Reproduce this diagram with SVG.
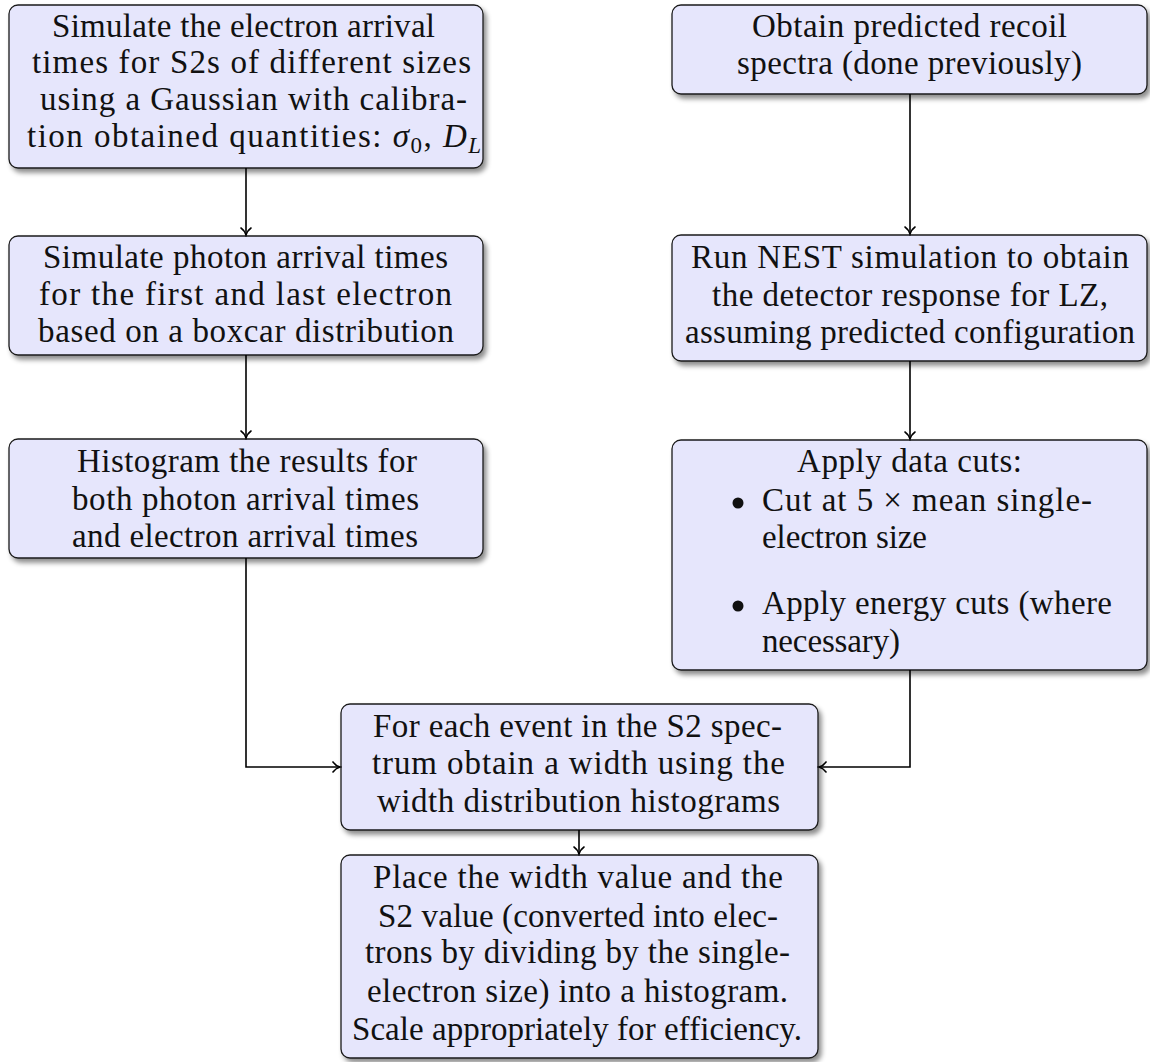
<svg xmlns="http://www.w3.org/2000/svg" width="1150" height="1062" viewBox="0 0 1150 1062">
  <style>
    .box { fill: #e6e6fc; stroke: #1a1a1a; stroke-width: 1.3; filter: url(#shadow); }
    .t { font-size: 33px; fill: #111; }
    .sub { font-size: 23px; }
    .link { fill: none; stroke: #000; stroke-width: 1.6; marker-end: url(#tip); }
    .bullet { fill: #111; }
  </style>
  <defs>
    <filter id="shadow" x="-5%" y="-10%" width="115%" height="130%">
      <feGaussianBlur in="SourceAlpha" stdDeviation="2.5"/>
      <feOffset dx="3" dy="4" result="blur"/>
      <feFlood flood-color="#000" flood-opacity="0.45"/>
      <feComposite in2="blur" operator="in"/>
      <feMerge>
        <feMergeNode/>
        <feMergeNode in="SourceGraphic"/>
      </feMerge>
    </filter>
    <marker id="tip" markerUnits="userSpaceOnUse" viewBox="-8 -6 10 12" refX="0" refY="0" markerWidth="10" markerHeight="12" orient="auto">
      <path d="M -7 -5 C -5.2 -2.3 -2 -0.6 0 0 C -2 0.6 -5.2 2.3 -7 5" fill="none" stroke="#000" stroke-width="1.6" stroke-linecap="round"/>
    </marker>
  </defs>

  <g font-family="Liberation Serif, serif">
    <!-- left column -->
    <g id="sim-electrons">
      <rect class="box" x="9" y="5" width="474" height="163" rx="9"/>
      <text class="t" x="52" y="37" textLength="383" lengthAdjust="spacing">Simulate the electron arrival</text>
      <text class="t" x="32" y="73" textLength="439" lengthAdjust="spacing">times for S2s of different sizes</text>
      <text class="t" x="40" y="110" textLength="427" lengthAdjust="spacing">using a Gaussian with calibra-</text>
      <text class="t" x="27" y="147" textLength="454" lengthAdjust="spacing">tion obtained quantities: <tspan font-style="italic">σ</tspan><tspan class="sub" dy="6">0</tspan><tspan dy="-6">, </tspan><tspan font-style="italic">D</tspan><tspan class="sub" font-style="italic" dy="6">L</tspan></text>
    </g>

    <g id="sim-photons">
      <rect class="box" x="9" y="236" width="474" height="119" rx="9"/>
      <text class="t" x="43" y="268" textLength="405" lengthAdjust="spacing">Simulate photon arrival times</text>
      <text class="t" x="39" y="305" textLength="413" lengthAdjust="spacing">for the first and last electron</text>
      <text class="t" x="38" y="342" textLength="416" lengthAdjust="spacing">based on a boxcar distribution</text>
    </g>

    <g id="histogram-results">
      <rect class="box" x="9" y="439" width="474" height="119" rx="9"/>
      <text class="t" x="77" y="472" textLength="340" lengthAdjust="spacing">Histogram the results for</text>
      <text class="t" x="72" y="510" textLength="347" lengthAdjust="spacing">both photon arrival times</text>
      <text class="t" x="72" y="547" textLength="346" lengthAdjust="spacing">and electron arrival times</text>
    </g>

    <!-- right column -->
    <g id="recoil-spectra">
      <rect class="box" x="672" y="5" width="475" height="89" rx="9"/>
      <text class="t" x="752" y="37" textLength="315" lengthAdjust="spacing">Obtain predicted recoil</text>
      <text class="t" x="737" y="74" textLength="345" lengthAdjust="spacing">spectra (done previously)</text>
    </g>

    <g id="nest-sim">
      <rect class="box" x="672" y="235" width="475" height="126" rx="9"/>
      <text class="t" x="691" y="268" textLength="438" lengthAdjust="spacing">Run NEST simulation to obtain</text>
      <text class="t" x="712" y="306" textLength="396" lengthAdjust="spacing">the detector response for LZ,</text>
      <text class="t" x="685" y="343" textLength="450" lengthAdjust="spacing">assuming predicted configuration</text>
    </g>

    <g id="data-cuts">
      <rect class="box" x="672" y="440" width="475" height="230" rx="9"/>
      <text class="t" x="797" y="472" textLength="225" lengthAdjust="spacing">Apply data cuts:</text>
      <circle class="bullet" cx="738" cy="503" r="5.5"/>
      <text class="t" x="762" y="511" textLength="330" lengthAdjust="spacing">Cut at 5 × mean single-</text>
      <text class="t" x="762" y="548" textLength="165" lengthAdjust="spacing">electron size</text>
      <circle class="bullet" cx="738" cy="606" r="5.5"/>
      <text class="t" x="762" y="614" textLength="350" lengthAdjust="spacing">Apply energy cuts (where</text>
      <text class="t" x="762" y="652" textLength="138" lengthAdjust="spacing">necessary)</text>
    </g>

    <!-- merged path -->
    <g id="width-per-event">
      <rect class="box" x="341" y="704" width="477" height="126" rx="9"/>
      <text class="t" x="373" y="737" textLength="409" lengthAdjust="spacing">For each event in the S2 spec-</text>
      <text class="t" x="372" y="774" textLength="413" lengthAdjust="spacing">trum obtain a width using the</text>
      <text class="t" x="377" y="812" textLength="403" lengthAdjust="spacing">width distribution histograms</text>
    </g>

    <g id="final-histogram">
      <rect class="box" x="341" y="855" width="477" height="203" rx="9"/>
      <text class="t" x="373" y="888" textLength="410" lengthAdjust="spacing">Place the width value and the</text>
      <text class="t" x="378" y="927" textLength="400" lengthAdjust="spacing">S2 value (converted into elec-</text>
      <text class="t" x="365" y="963" textLength="425" lengthAdjust="spacing">trons by dividing by the single-</text>
      <text class="t" x="367" y="1002" textLength="421" lengthAdjust="spacing">electron size) into a histogram.</text>
      <text class="t" x="352" y="1040" textLength="450" lengthAdjust="spacing">Scale appropriately for efficiency.</text>
    </g>
  </g>

  <!-- connectors -->
  <g id="connectors">
    <path class="link" d="M246 168 V235"/>
    <path class="link" d="M246 355 V438"/>
    <path class="link" d="M246 558 V767 H340"/>
    <path class="link" d="M910 94 V234"/>
    <path class="link" d="M910 361 V439"/>
    <path class="link" d="M910 670 V767 H819"/>
    <path class="link" d="M579 830 V854"/>
  </g>
</svg>
